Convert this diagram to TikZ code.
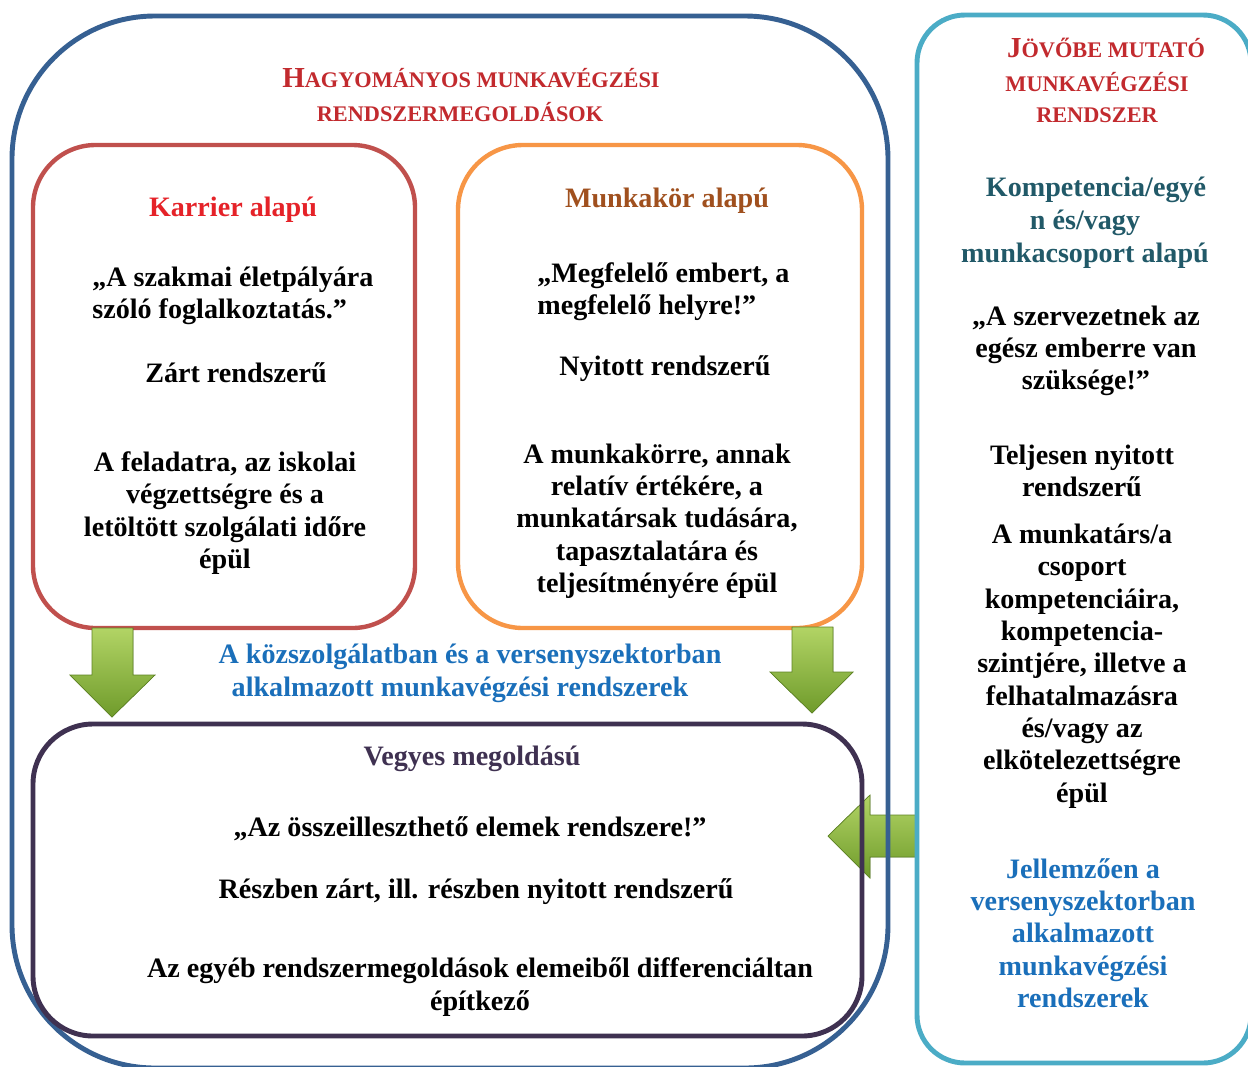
\documentclass[tikz,border=0pt]{standalone}
\usepackage{fontspec}
\setmainfont{Liberation Serif}
\definecolor{frameblue}{HTML}{366092}
\definecolor{framecyan}{HTML}{4BACC6}
\definecolor{framered}{HTML}{C0504D}
\definecolor{frameorange}{HTML}{F79646}
\definecolor{framepurple}{HTML}{3F3151}
\definecolor{titlered}{HTML}{C22A2E}
\definecolor{karrierred}{HTML}{E52228}
\definecolor{munkaorange}{HTML}{A0501E}
\definecolor{textblue}{HTML}{1A6FBA}
\definecolor{tealtxt}{HTML}{215968}
\definecolor{arrowlight}{HTML}{B2D465}
\definecolor{arrowdark}{HTML}{6F9B2B}
\definecolor{arrowedge}{HTML}{5E8424}

\tikzset{
  txt/.style={font=\bfseries\fontsize{16}{18.4}\selectfont, align=center, inner sep=0pt},
  heading/.style={font=\bfseries\fontsize{12.7}{19.3}\selectfont, align=center, inner sep=0pt, text=titlered},
  frame/.style={line width=2.8pt},
  greenarrow/.style={top color=arrowlight, bottom color=arrowdark, draw=arrowedge, line width=0.4pt, line join=miter},
}

\newcommand\initialcap[1]{{\fontsize{16.5}{19.3}\selectfont #1}}

\begin{document}
\begin{tikzpicture}[x=0.02cm, y=-0.02cm]
\useasboundingbox (0,0) rectangle (1248,1066);
\clip (0,0) rectangle (1248,1066);
\fill[white] (0,0) rectangle (1248,1066);

% arrow from the right-hand system into the mixed solution (behind the frames)
\fill[greenarrow] (917,815) -- (870,815) -- (870,795) -- (828,836) -- (870,878) -- (870,857) -- (917,857) -- cycle;

% frames
\draw[frame, draw=frameblue, rounded corners=2.86cm] (12,16) rectangle (888,1068);
\draw[frame, draw=framecyan, rounded corners=0.96cm] (917,15) rectangle (1251,1063);
\draw[frame, draw=framered, line width=2.5pt, rounded corners=1.25cm] (33,145) rectangle (415,628);
\draw[frame, draw=frameorange, line width=2.5pt, rounded corners=1.3cm] (458,145) rectangle (862,628);
\draw[frame, draw=framepurple, rounded corners=1.2cm] (33,724) rectangle (862,1036);

% arrows down into the mixed solution
\fill[greenarrow] (92,628) -- (133,628) -- (133,675) -- (155,675) -- (112,717) -- (70,675) -- (92,675) -- cycle;
\fill[greenarrow] (792,627) -- (833,627) -- (833,672) -- (853,672) -- (812,713) -- (770,672) -- (792,672) -- cycle;

% headings
\node[heading] (hl1) at (471,78) {\initialcap{H}AGYOMÁNYOS MUNKAVÉGZÉSI};
\node[heading] (hl2) at (460,112) {RENDSZERMEGOLDÁSOK};
\node[heading] (hr1) at (1106,48) {\initialcap{J}ÖVŐBE MUTATÓ};
\node[heading] (hr2) at (1097,82) {MUNKAVÉGZÉSI};
\node[heading] (hr3) at (1097,115) {RENDSZER};

% career based
\node[txt, text=karrierred] (kt) at (233,210) {Karrier alapú};
\node[txt, align=left, anchor=west] (kq) at (92,296) {„A szakmai életpályára\\ szóló foglalkoztatás.”};
\node[txt] (kz) at (236,373) {Zárt rendszerű};
\node[txt] (kd) at (225,513) {A feladatra, az iskolai\\végzettségre és a\\letöltött szolgálati időre\\épül};

% position based
\node[txt, text=munkaorange] (mt) at (667,201) {Munkakör alapú};
\node[txt, align=left, anchor=west] (mq) at (537,292) {„Megfelelő embert, a\\ megfelelő helyre!”};
\node[txt] (mn) at (665,369) {Nyitott rendszerű};
\node[txt] (md) at (657,521) {A munkakörre, annak\\relatív értékére, a\\munkatársak tudására,\\tapasztalatára és\\teljesítményére épül};

% middle caption
\node[txt, text=textblue] (mid1) at (470,657) {A közszolgálatban és a versenyszektorban};
\node[txt, text=textblue] (mid2) at (460,690) {alkalmazott munkavégzési rendszerek};

% mixed solution
\node[txt, text=framepurple] (vt) at (472,759) {Vegyes megoldású};
\node[txt] (vq) at (470,829) {„Az összeilleszthető elemek rendszere!”};
\node[txt] (vr) at (476,892) {Részben zárt, ill. részben nyitott rendszerű};
\node[txt] (vd) at (480,987) {Az egyéb rendszermegoldások elemeiből differenciáltan\\építkező};

% competence based
\node[txt, text=tealtxt] (ct1) at (1096,190) {Kompetencia/egyé};
\node[txt, text=tealtxt] (ct2) at (1085,223) {n és/vagy};
\node[txt, text=tealtxt] (ct3) at (1085,256) {munkacsoport alapú};
\node[txt] (cq) at (1086,351) {„A szervezetnek az\\egész emberre van\\szüksége!”};
\node[txt] (cn) at (1082,471) {Teljesen nyitott\\rendszerű};
\node[txt] (cd) at (1082,666) {A munkatárs/a\\csoport\\kompetenciáira,\\kompetencia-\\szintjére, illetve a\\felhatalmazásra\\és/vagy az\\elkötelezettségre\\épül};
\node[txt, text=textblue] (cj) at (1083,933) {Jellemzően a\\versenyszektorban\\alkalmazott\\munkavégzési\\rendszerek};
\end{tikzpicture}
\end{document}
